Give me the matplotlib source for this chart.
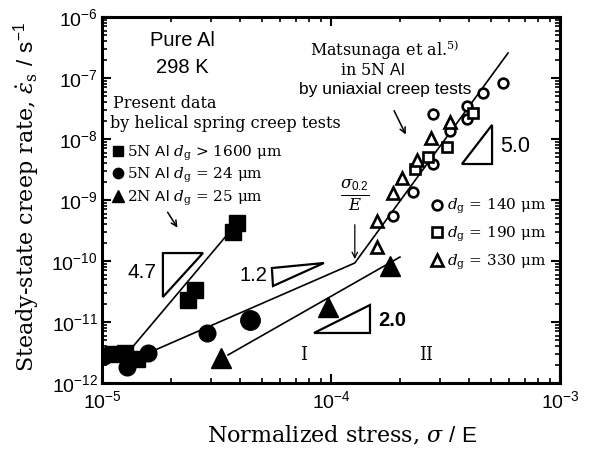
import numpy as np
import matplotlib.pyplot as plt

plt.rcParams['font.family'] = ['Liberation Sans', 'DejaVu Sans']
plt.rcParams['mathtext.fontset'] = 'custom'
plt.rcParams['mathtext.rm'] = 'DejaVu Serif'
plt.rcParams['mathtext.it'] = 'DejaVu Serif:italic'
plt.rcParams['mathtext.bf'] = 'DejaVu Serif:bold'
plt.rcParams['mathtext.sf'] = 'Liberation Sans'

SERIF = 'DejaVu Serif'

# Present data (helical spring creep tests)
sq_x = [1.12e-5, 1.26e-5, 1.42e-5, 2.37e-5, 2.55e-5, 3.73e-5, 3.89e-5]
sq_y = [2.98e-12, 3.10e-12, 2.47e-12, 2.3e-11, 3.35e-11, 3.0e-10, 4.2e-10]
ci_x = [1.02e-5, 1.29e-5, 1.59e-5, 2.87e-5]
ci_y = [2.77e-12, 1.83e-12, 3.10e-12, 6.6e-12]
ci_big_x = [4.43e-5]
ci_big_y = [1.08e-11]
tr_x = [3.31e-5, 9.7e-5, 1.81e-4]
tr_y = [2.57e-12, 1.76e-11, 8.3e-11]

# Matsunaga et al. (uniaxial creep tests)
oc_x = [5.64e-4, 4.62e-4, 3.93e-4, 3.93e-4, 2.79e-4, 3.31e-4, 2.79e-4, 2.28e-4, 1.87e-4]
oc_y = [8.28e-8, 5.68e-8, 3.48e-8, 2.13e-8, 2.57e-8, 1.35e-8, 3.89e-9, 1.35e-9, 5.47e-10]
os_x = [2.33e-4, 2.66e-4, 3.21e-4, 4.17e-4]
os_y = [3.22e-9, 5.07e-9, 7.40e-9, 2.67e-8]
ot_x = [1.59e-4, 1.59e-4, 1.87e-4, 2.04e-4, 2.38e-4, 2.74e-4, 3.31e-4]
ot_y = [1.70e-10, 4.53e-10, 1.30e-9, 2.30e-9, 4.53e-9, 1.04e-8, 1.90e-8]

# fitted lines
fit_sq_x = [1.325e-5, 3.89e-5]
fit_sq_y = [3.47e-12, 4.2e-10]
fit_ci_x = [1.59e-5, 1.27e-4, 5.93e-4]
fit_ci_y = [3.10e-12, 9.27e-11, 2.57e-7]
fit_tr_x = [3.55e-5, 2.0e-4]
fit_tr_y = [2.88e-12, 1.16e-10]

# slope triangles
slope_47_x = [1.845e-5, 2.76e-5, 1.845e-5]
slope_47_y = [1.35e-10, 1.35e-10, 2.57e-11]
slope_12_x = [5.52e-5, 9.31e-5, 5.58e-5]
slope_12_y = [7.67e-11, 9.27e-11, 3.89e-11]
slope_20_x = [8.43e-5, 1.48e-4, 1.48e-4]
slope_20_y = [6.61e-12, 1.90e-11, 6.61e-12]
slope_50_x = [3.73e-4, 5.05e-4, 5.05e-4]
slope_50_y = [3.89e-9, 1.70e-8, 3.89e-9]

fig = plt.figure(figsize=(5.9, 4.54), dpi=100)
ax = fig.add_axes([102/590, 1-383/454, 458/590, 366/454])
ax.set_xscale('log')
ax.set_yscale('log')
ax.set_xlim(1e-5, 1e-3)
ax.set_ylim(1e-12, 1e-6)

# lines
for xs, ys in [(fit_sq_x, fit_sq_y), (fit_ci_x, fit_ci_y), (fit_tr_x, fit_tr_y)]:
    ax.plot(xs, ys, color='black', lw=1.2, zorder=2)
for xs, ys in [(slope_47_x, slope_47_y), (slope_12_x, slope_12_y),
               (slope_20_x, slope_20_y), (slope_50_x, slope_50_y)]:
    ax.fill(xs, ys, facecolor='none', edgecolor='black', lw=1.6, zorder=2)

# filled markers
h_sq, = ax.plot(sq_x, sq_y, 's', color='black', ms=12, ls='none', zorder=3,
                label=r'5N $\mathsf{Al}$ $d_{\rm g}$ > 1600 μm')
h_ci, = ax.plot(ci_x, ci_y, 'o', color='black', ms=12, ls='none', zorder=3,
                label=r'5N $\mathsf{Al}$ $d_{\rm g}$ = 24 μm')
ax.plot(ci_big_x, ci_big_y, 'o', color='black', ms=14, ls='none', zorder=3)
h_tr, = ax.plot(tr_x, tr_y, '^', color='black', ms=14, ls='none', zorder=3,
                label=r'2N $\mathsf{Al}$ $d_{\rm g}$ = 25 μm')

# open markers
h_oc, = ax.plot(oc_x, oc_y, 'o', mfc='white', mec='black', mew=1.9, ms=7, ls='none',
                zorder=3, label=r'$d_{\rm g}$ = 140 μm')
h_os, = ax.plot(os_x, os_y, 's', mfc='white', mec='black', mew=1.9, ms=7, ls='none',
                zorder=3, label=r'$d_{\rm g}$ = 190 μm')
h_ot, = ax.plot(ot_x, ot_y, '^', mfc='white', mec='black', mew=1.9, ms=8, ls='none',
                zorder=3, label=r'$d_{\rm g}$ = 330 μm')

leg1 = ax.legend(handles=[h_sq, h_ci, h_tr], loc='upper left', bbox_to_anchor=(0.022, 0.655),
                 frameon=False, markerscale=0.62, handlelength=0.8, handletextpad=0.2,
                 borderpad=0, borderaxespad=0, labelspacing=0.22,
                 prop={'family': SERIF, 'size': 11})
ax.add_artist(leg1)
ax.legend(handles=[h_oc, h_os, h_ot], loc='upper left', bbox_to_anchor=(0.718, 0.508),
          frameon=False, handlelength=0.8, handletextpad=0.25,
          borderpad=0, borderaxespad=0, labelspacing=0.55,
          prop={'family': SERIF, 'size': 11})

# text annotations
ax.text(0.175, 0.937, 'Pure Al', transform=ax.transAxes, ha='center', va='center', fontsize=14.5)
ax.text(0.175, 0.863, '298 K', transform=ax.transAxes, ha='center', va='center', fontsize=14.5)
ax.text(0.024, 0.765, 'Present data', transform=ax.transAxes, ha='left', va='center',
        family=SERIF, fontsize=11.5)
ax.text(0.017, 0.708, 'by helical spring creep tests', transform=ax.transAxes, ha='left',
        va='center', family=SERIF, fontsize=11.5)
ax.annotate('', xy=(0.168, 0.418), xytext=(0.140, 0.473), xycoords='axes fraction',
            arrowprops=dict(arrowstyle='->', color='black', lw=1.1))

ax.text(0.616, 0.910, r'Matsunaga et al.$^{\rm 5)}$', transform=ax.transAxes, ha='center',
        va='center', family=SERIF, fontsize=11.5)
ax.text(0.590, 0.855, r'in 5N $\mathsf{Al}$', transform=ax.transAxes, ha='center',
        va='center', family=SERIF, fontsize=11.5)
ax.text(0.618, 0.801, 'by uniaxial creep tests', transform=ax.transAxes, ha='center',
        va='center', fontsize=12.5)
ax.annotate('', xy=(0.666, 0.672), xytext=(0.635, 0.751), xycoords='axes fraction',
            arrowprops=dict(arrowstyle='->', color='black', lw=1.1))

ax.text(0.552, 0.514, r'$\frac{\sigma_{\mathsf{0.2}}}{E}$', transform=ax.transAxes,
        ha='center', va='center', fontsize=17)
ax.annotate('', xy=(0.552, 0.331), xytext=(0.552, 0.440), xycoords='axes fraction',
            arrowprops=dict(arrowstyle='->', color='black', lw=0.9))

ax.text(0.087, 0.301, '4.7', transform=ax.transAxes, ha='center', va='center', fontsize=15)
ax.text(0.330, 0.295, '1.2', transform=ax.transAxes, ha='center', va='center', fontsize=14.5)
ax.text(0.633, 0.172, '2.0', transform=ax.transAxes, ha='center', va='center', fontsize=14.5,
        fontweight='bold')
ax.text(0.902, 0.645, '5.0', transform=ax.transAxes, ha='center', va='center', fontsize=15.5)
ax.text(0.439, 0.077, 'I', transform=ax.transAxes, ha='center', va='center', family=SERIF,
        fontsize=13)
ax.text(0.707, 0.077, 'II', transform=ax.transAxes, ha='center', va='center', family=SERIF,
        fontsize=13)

# axes styling
for sp in ax.spines.values():
    sp.set_linewidth(2.2)
ax.tick_params(which='both', direction='in', top=True, right=True)
ax.tick_params(which='major', length=6.5, width=1.5, labelsize=14)
ax.tick_params(which='minor', length=3.6, width=1.2)
ax.tick_params(axis='x', pad=5)
ax.tick_params(axis='y', pad=3)

ax.set_xlabel(r'Normalized stress, $\sigma$ $\mathsf{/\ E}$', family=SERIF, fontsize=16)
ax.set_ylabel(r'Steady-state creep rate, $\dot{\varepsilon}_{\rm s}$ $\mathsf{/\ s^{-1}}$',
              family=SERIF, fontsize=16)
ax.xaxis.set_label_coords(0.524, -0.112)
ax.yaxis.set_label_coords(-0.131, 0.508)

fig.savefig('out.png', dpi=100)
